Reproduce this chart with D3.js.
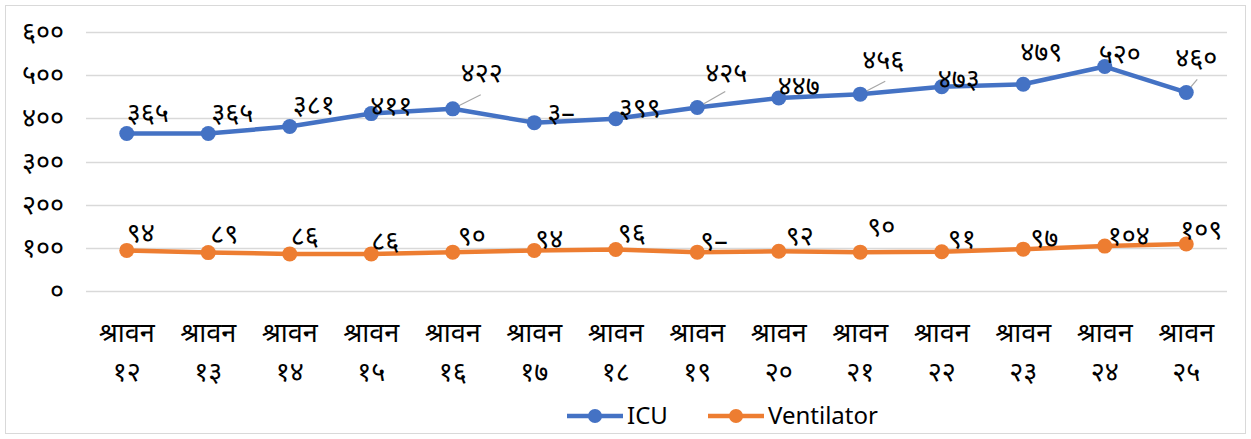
<!DOCTYPE html>
<html>
<head>
<meta charset="utf-8">
<script src="https://cdn.jsdelivr.net/npm/d3@7"></script>
<style>
  body { margin: 0; background: #fff; }
  svg text { font-family: "Noto Sans", "DejaVu Sans", sans-serif; fill: #000; }
</style>
</head>
<body>
<div id="chart"></div>
<script>
(function () {
  const categories = ["श्रावन १२", "श्रावन १३", "श्रावन १४", "श्रावन १५", "श्रावन १६", "श्रावन १७", "श्रावन १८",
    "श्रावन १९", "श्रावन २०", "श्रावन २१", "श्रावन २२", "श्रावन २३", "श्रावन २४", "श्रावन २५"];
  const icuValues = [365, 365, 381, 411, 422, 390, 399, 425, 447, 456, 473, 479, 520, 460];
  const ventValues = [94, 89, 86, 86, 90, 94, 96, 90, 92, 90, 91, 97, 104, 109];
  const icuLabels = ["३६५", "३६५", "३८१", "४११", "४२२", "३–", "३९९", "४२५", "४४७", "४५६", "४७३", "४७९", "५२०", "४६०"];
  const ventLabels = ["९४", "८९", "८६", "८६", "९०", "९४", "९६", "९–", "९२", "९०", "९१", "९७", "१०४", "१०९"];
  const yTicks = [0, 100, 200, 300, 400, 500, 600];
  const seriesNames = ["ICU", "Ventilator"];

  // label nudges (dx to left edge, dy to middle) as placed by hand in the original
  const icuNudge = [[0,-21],[3,-21],[3,-22],[-1,-8],[8,-36],[13,-10],[3,-11],[8,-35],[-1,-12],[2,-35],[-4,-8],[-3,-33],[-6,-13],[-11,-35]];
  const ventNudge = [[0,-18],[2,-19],[1,-18],[0,-13],[5,-17],[1,-12],[2,-17],[3,-12],[7,-16],[7,-26],[6,-13],[7,-12],[3,-11],[-6,-14]];
  const icuLeaders = {4: [28, -14], 7: [28, -16], 9: [25, -13], 13: [11, -13]};

  const w = 1251, h = 439;
  const left = 86, right = 1227, top = 32, bottom = 291;
  const blue = "#4472C4", orange = "#ED7D31";
  const devaDigits = "०१२३४५६७८९";
  const toDeva = (n) => String(n).replace(/[0-9]/g, (c) => devaDigits[+c]);

  const svg = d3.select("#chart").append("svg")
    .attr("width", w).attr("height", h);

  svg.append("rect")
    .attr("x", 5.5).attr("y", 5.5)
    .attr("width", w - 11).attr("height", h - 11)
    .attr("fill", "#fff").attr("stroke", "#d9d9d9");

  const x = d3.scaleBand().domain(categories).range([left, right]);
  const y = d3.scaleLinear().domain([0, 600]).range([bottom, top]);
  const cx = (d) => x(d) + x.bandwidth() / 2;

  // gridlines
  svg.append("g").selectAll("line")
    .data(yTicks).enter().append("line")
    .attr("x1", left).attr("x2", right)
    .attr("y1", (d) => Math.round(y(d)) + 0.5).attr("y2", (d) => Math.round(y(d)) + 0.5)
    .attr("stroke", "#d9d9d9").attr("stroke-width", 1.5);

  // y axis labels
  const yAxis = d3.axisLeft(y).tickValues(yTicks).tickFormat(toDeva).tickSize(0).tickPadding(0);
  const yg = svg.append("g").attr("transform", `translate(${left - 22},0)`).call(yAxis);
  yg.select(".domain").remove();
  yg.selectAll("text").attr("font-size", 27).attr("font-family", null);

  // x axis labels, two lines
  const xg = svg.append("g").selectAll("g")
    .data(categories).enter().append("g")
    .attr("transform", (d) => `translate(${cx(d)},0)`);
  xg.append("text").attr("y", 333).attr("dy", "0.35em").attr("text-anchor", "middle")
    .attr("font-size", 27).text((d) => d.split(" ")[0]);
  xg.append("text").attr("y", 372).attr("dy", "0.35em").attr("text-anchor", "middle")
    .attr("font-size", 27).text((d) => d.split(" ")[1]);

  function drawSeries(values, color, labels, nudge, leaders) {
    const pts = values.map((v, i) => [cx(categories[i]), y(v)]);
    const g = svg.append("g");
    g.append("path")
      .attr("d", d3.line()(pts))
      .attr("fill", "none").attr("stroke", color)
      .attr("stroke-width", 4.5).attr("stroke-linejoin", "round");
    Object.keys(leaders).forEach((k) => {
      const p = pts[k];
      g.append("line")
        .attr("x1", p[0]).attr("y1", p[1])
        .attr("x2", p[0] + leaders[k][0]).attr("y2", p[1] + leaders[k][1])
        .attr("stroke", "#a6a6a6").attr("stroke-width", 1.2);
    });
    g.selectAll("circle").data(pts).enter().append("circle")
      .attr("cx", (d) => d[0]).attr("cy", (d) => d[1])
      .attr("r", 7.5).attr("fill", color);
    g.selectAll("text").data(pts).enter().append("text")
      .attr("x", (d, i) => d[0] + nudge[i][0])
      .attr("y", (d, i) => d[1] + nudge[i][1])
      .attr("dy", "0.35em").attr("font-size", 27)
      .text((d, i) => labels[i]);
  }

  drawSeries(icuValues, blue, icuLabels, icuNudge, icuLeaders);
  drawSeries(ventValues, orange, ventLabels, ventNudge, {});

  // legend
  const legend = svg.append("g").attr("transform", "translate(567,416)");
  const items = legend.selectAll("g").data(seriesNames).enter().append("g")
    .attr("transform", (d, i) => `translate(${i * 141},0)`);
  items.append("line").attr("x1", 0).attr("x2", 56)
    .attr("stroke", (d, i) => [blue, orange][i]).attr("stroke-width", 4.5);
  items.append("circle").attr("cx", 28).attr("r", 7)
    .attr("fill", (d, i) => [blue, orange][i]);
  items.append("text").attr("x", 60).attr("dy", "0.35em")
    .attr("font-family", "'Open Sans', sans-serif")
    .attr("font-size", 24).text((d) => d);
})();
</script>
</body>
</html>
